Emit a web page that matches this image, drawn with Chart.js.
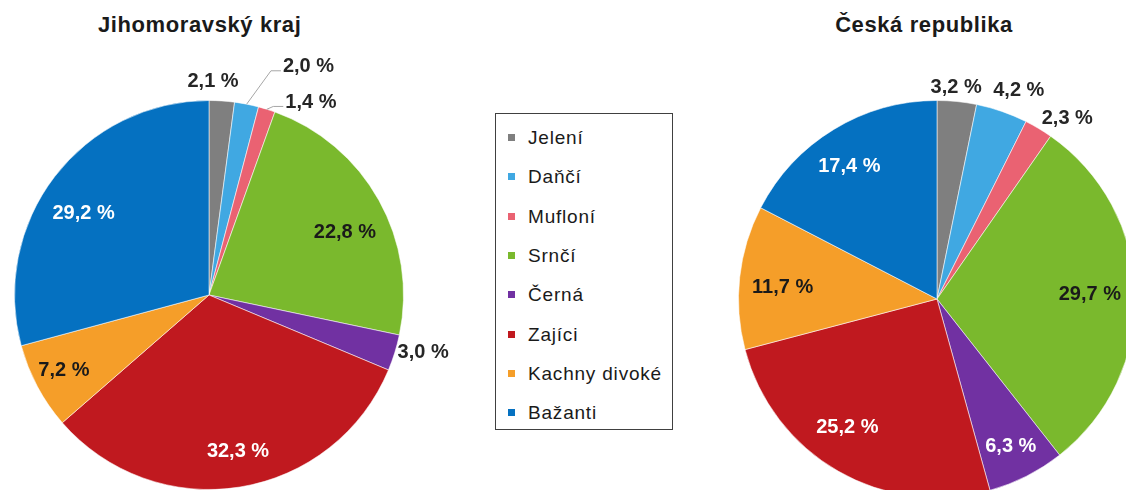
<!DOCTYPE html>
<html>
<head>
<meta charset="utf-8">
<script src="https://cdn.jsdelivr.net/npm/chart.js@4/dist/chart.umd.min.js"></script>
<style>
  html, body { margin:0; padding:0; background:#fff; overflow:hidden; }
  #wrap { position:relative; width:1126px; height:490px; overflow:hidden; font-family:"Liberation Sans", Arial, sans-serif; }
  canvas { position:absolute; }
  .title { position:absolute; top:14px; height:22px; line-height:22px; font-weight:bold; font-size:22px; letter-spacing:0.6px; color:#1a1a1a; text-align:center; white-space:nowrap; }
  #legend { position:absolute; left:495px; top:113px; width:178px; height:317px; border:1px solid #404040; box-sizing:border-box; background:#fff; }
  .item { position:absolute; left:0; height:19px; line-height:19px; font-size:19px; letter-spacing:0.8px; color:#1a1a1a; white-space:nowrap; }
  .item i { position:absolute; left:12px; top:6px; width:7px; height:7px; }
  .item span { position:absolute; left:32px; top:0; }
</style>
</head>
<body>
<div id="wrap">
  <div class="title" id="t1" style="left:98px; width:200px;"></div>
  <div class="title" id="t2" style="left:824px; width:200px;"></div>
  <canvas id="c1" width="490" height="490" style="left:0; top:0; width:490px; height:490px;"></canvas>
  <canvas id="c2" width="460" height="500" style="left:700px; top:0; width:460px; height:500px;"></canvas>
  <div id="legend"></div>
</div>
<script>
// ---- data ----
const titles = ['Jihomoravský kraj', 'Česká republika'];
const categories = ['Jelení', 'Daňčí', 'Mufloní', 'Srnčí', 'Černá', 'Zajíci', 'Kachny divoké', 'Bažanti'];
const jmkValues = [2.1, 2.0, 1.4, 22.8, 3.0, 32.3, 7.2, 29.2];
const crValues  = [3.2, 4.2, 2.3, 29.7, 6.3, 25.2, 11.7, 17.4];
const colors = ['#7f7f7f', '#40a8e2', '#ea6272', '#7ab92d', '#7131a2', '#c0191f', '#f59e29', '#0571c1'];

// label layout (radius factor, angle nudge in degrees, text colour, leader line)
const jmkLabelR     = [1.10, 1.28, 1.12, 0.77, 1.14, 0.82, 0.84, 0.77];
const jmkLabelA     = [-2.7, 12.4, 10.6, 4.3, -2.2, -1.3, 0.7, -4.3];
const jmkLabelC     = ['#262626', '#262626', '#262626', '#1a1a1a', '#262626', '#ffffff', '#1a1a1a', '#ffffff'];
const jmkLeader     = [false, true, true, false, false, false, false, false];
const crLabelR      = [1.07, 1.13, 1.12, 0.77, 0.83, 0.79, 0.78, 0.80];
const crLabelA      = [-0.6, 2.3, 5.1, 0.0, 0.2, 5.0, -1.9, -2.2];
const crLabelC      = ['#262626', '#262626', '#262626', '#1a1a1a', '#ffffff', '#ffffff', '#1a1a1a', '#ffffff'];
const crLeader      = [false, false, false, false, false, false, false, false];

function fmt(v) { return v.toFixed(1).replace('.', ',') + ' %'; }

document.getElementById('t1').textContent = titles[0];
document.getElementById('t2').textContent = titles[1];

const legend = document.getElementById('legend');
categories.forEach((c, i) => {
  const d = document.createElement('div');
  d.className = 'item';
  d.style.top = (14 + i * 39.3) + 'px';
  d.style.width = '100%';
  const m = document.createElement('i');
  m.style.background = colors[i];
  const s = document.createElement('span');
  s.textContent = c;
  d.appendChild(m); d.appendChild(s);
  legend.appendChild(d);
});

const labelPlugin = {
  id: 'pieLabels',
  afterDatasetsDraw(chart, args, opts) {
    const ctx = chart.ctx;
    const meta = chart.getDatasetMeta(0);
    const vals = chart.data.datasets[0].data;
    ctx.save();
    ctx.font = 'bold 20px "Liberation Sans", Arial, sans-serif';
    ctx.textAlign = 'center';
    ctx.textBaseline = 'middle';
    meta.data.forEach((arc, i) => {
      const p = arc.getProps(['x', 'y', 'startAngle', 'endAngle', 'outerRadius'], true);
      const mid = (p.startAngle + p.endAngle) / 2;
      const a = mid + opts.angles[i] * Math.PI / 180;
      const r = p.outerRadius * opts.radii[i];
      const lx = p.x + Math.cos(a) * r;
      const ly = p.y + Math.sin(a) * r;
      const txt = fmt(vals[i]);
      if (opts.leaders[i]) {
        const w = ctx.measureText(txt).width;
        const ex = p.x + Math.cos(mid) * p.outerRadius;
        const ey = p.y + Math.sin(mid) * p.outerRadius;
        const endX = lx - w / 2 - 2, endY = ly + 4;
        ctx.strokeStyle = '#a6a6a6';
        ctx.lineWidth = 1;
        ctx.beginPath();
        ctx.moveTo(ex, ey);
        ctx.lineTo(endX - 10, endY);
        ctx.lineTo(endX, endY);
        ctx.stroke();
      }
      ctx.fillStyle = opts.colors[i];
      ctx.fillText(txt, lx, ly);
    });
    ctx.restore();
  }
};

function makePie(id, values, padding, radii, angles, lcolors, leaders) {
  return new Chart(document.getElementById(id), {
    type: 'pie',
    data: {
      labels: categories,
      datasets: [{
        data: values,
        backgroundColor: colors,
        borderColor: 'rgba(255,255,255,0.55)',
        borderWidth: 1
      }]
    },
    options: {
      responsive: false,
      devicePixelRatio: 1,
      animation: false,
      layout: { padding: padding },
      plugins: {
        legend: { display: false },
        tooltip: { enabled: false },
        title: { display: false },
        pieLabels: { radii: radii, angles: angles, colors: lcolors, leaders: leaders }
      }
    },
    plugins: [labelPlugin]
  });
}

makePie('c1', jmkValues, { left: 14, top: 100, right: 86, bottom: 0 }, jmkLabelR, jmkLabelA, jmkLabelC, jmkLeader);
makePie('c2', crValues, { left: 38, top: 100, right: 24, bottom: 2 }, crLabelR, crLabelA, crLabelC, crLeader);
</script>
</body>
</html>
